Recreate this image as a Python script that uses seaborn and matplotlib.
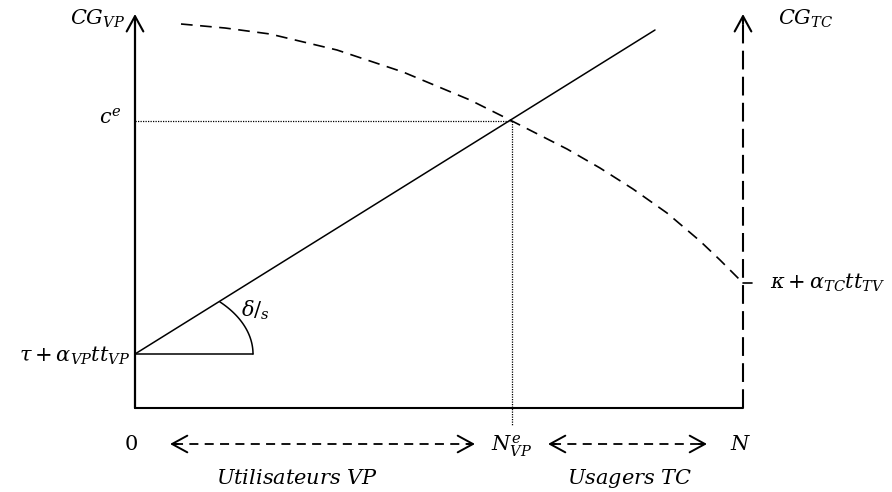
import numpy as np
import matplotlib
matplotlib.use("Agg")
import matplotlib.pyplot as plt
import pandas as pd
import seaborn as sns

# Diagram space: x = number of users (0 .. N), y = generalised cost
N = 608
axis_top = 394

# car (VP) cost line: starts at tau + alpha_VP tt_VP
vp_x = [0, 520]
vp_y = [54, 378]

# public transport (TC) cost curve
tc_x = [46, 90, 135, 202, 268, 335, 377, 432, 465, 498, 532, 565, 585, 598, 608]
tc_y = [384, 380, 374, 358, 336, 308, 287, 259, 240, 219, 195, 167, 148, 135, 125]

# equilibrium
n_e = 377
c_e = 287

# small flat segment + angle arc (delta / S)
base_len = 118
arc_a, arc_b = 118, 75
arc_end_deg = 44

# bottom arrows (user groups)
arrow_y = -36
vp_arrow = [35, 340]
tc_arrow = [413, 572]

sns.set_theme(style="white")
plt.rcParams['mathtext.fontset'] = 'dejavuserif'
plt.rcParams['font.family'] = ['DejaVu Serif']
plt.rcParams['text.color'] = 'black'

fig = plt.figure(figsize=(8.92, 4.92), dpi=100)
ax = fig.add_axes([0, 0, 1, 1])
ax.set_xlim(-135, 757)
ax.set_ylim(-84, 408)
ax.axis('off')

ink = '#000000'

# axes of the diagram
ax.plot([0, 0], [0, axis_top - 8], color=ink, lw=1.6)
ax.plot([0, N], [0, 0], color=ink, lw=1.5)
ax.plot([N, N], [0, axis_top - 8], color=ink, lw=1.5, dashes=(9, 3.5))
for xa in [0, N]:
    ax.annotate('', xy=(xa, axis_top), xytext=(xa, axis_top - 10),
                arrowprops=dict(arrowstyle='->,head_length=0.55,head_width=0.3',
                                color=ink, lw=1.5, mutation_scale=20,
                                shrinkA=0, shrinkB=0))
ax.plot([N, N + 9], [tc_y[-1], tc_y[-1]], color=ink, lw=1.2)

# cost lines
df_vp = pd.DataFrame({'x': vp_x, 'y': vp_y})
df_tc = pd.DataFrame({'x': tc_x, 'y': tc_y})
sns.lineplot(data=df_vp, x='x', y='y', ax=ax, color=ink, lw=1.1, sort=False)
sns.lineplot(data=df_tc, x='x', y='y', ax=ax, color=ink, lw=1.2, sort=False,
             dashes=(7, 4.5))

# equilibrium guides
ax.plot([0, n_e], [c_e, c_e], color=ink, lw=0.9, ls=(0, (1, 1)))
ax.plot([n_e, n_e], [c_e, -17], color=ink, lw=0.9, ls=(0, (1, 1)))

# angle marker
ax.plot([0, base_len], [vp_y[0], vp_y[0]], color=ink, lw=1.1)
t = np.radians(np.linspace(0, arc_end_deg, 60))
ax.plot(arc_a * np.cos(t), vp_y[0] + arc_b * np.sin(t), color=ink, lw=1.1)

# bottom double arrows
for x0, x1 in [vp_arrow, tc_arrow]:
    ax.plot([x0 + 4, x1 - 4], [arrow_y, arrow_y], color=ink, lw=1.3, dashes=(5, 3.5))
    for a, b in [(x1, x1 - 8), (x0, x0 + 8)]:
        ax.annotate('', xy=(a, arrow_y), xytext=(b, arrow_y),
                    arrowprops=dict(arrowstyle='->,head_length=0.55,head_width=0.3',
                                    color=ink, lw=1.4, mutation_scale=20,
                                    shrinkA=0, shrinkB=0))

fs = 15
ax.text(-10, 389, r'$CG_{VP}$', fontsize=fs, ha='right', va='center')
ax.text(-13, 290, r'$c^{e}$', fontsize=fs, ha='right', va='center')
ax.text(-5, 52, r'$\tau+\alpha_{VP}tt_{VP}$', fontsize=fs, ha='right', va='center')
ax.text(106, 98, r'$\delta/_{s}$', fontsize=fs, ha='left', va='center')
ax.text(643, 389, r'$CG_{TC}$', fontsize=fs, ha='left', va='center')
ax.text(635, 125, r'$\kappa+\alpha_{TC}tt_{TV}$', fontsize=fs, ha='left', va='center')
ax.text(-4, -36, r'$0$', fontsize=fs, ha='center', va='center')
ax.text(n_e, -38, r'$N_{VP}^{e}$', fontsize=fs, ha='center', va='center')
ax.text(N - 2, -36, r'$N$', fontsize=fs, ha='center', va='center')
ax.text(162, -71, r'$Utilisateurs\ VP$', fontsize=fs, ha='center', va='center')
ax.text(495, -71, r'$Usagers\ TC$', fontsize=fs, ha='center', va='center')

fig.savefig('out.png', dpi=100)
